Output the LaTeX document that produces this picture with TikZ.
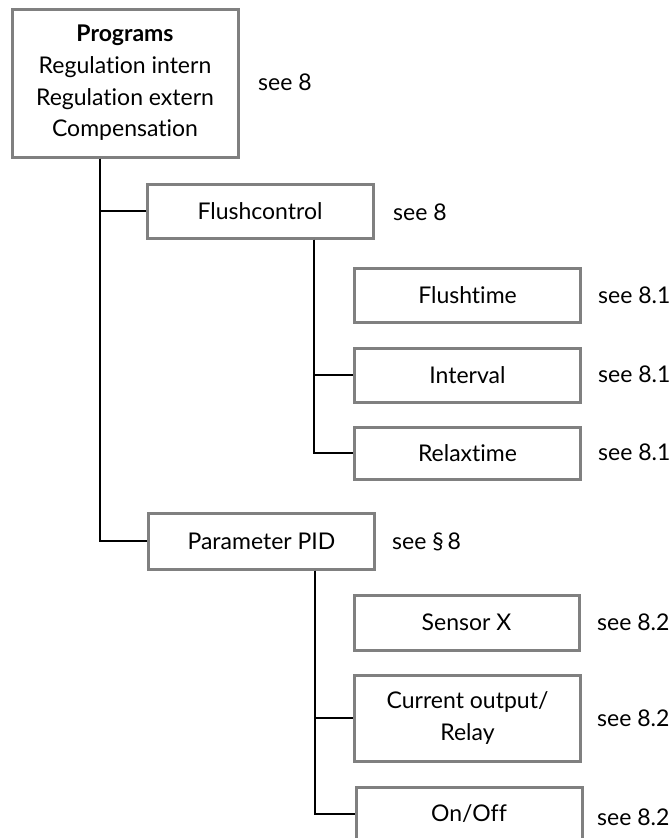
\documentclass[tikz,border=0pt]{standalone}
\usepackage{fontspec}
\setmainfont{Lato}[Ligatures={NoCommon},RawFeature={-liga;-dlig}]
\begin{document}
\begin{tikzpicture}[x=1pt,y=-1pt,
  box/.style={draw=boxgray,line width=3pt,fill=white,inner sep=0pt,minimum width=226pt,minimum height=54pt,align=center,font=\fontsize{23}{31.7}\selectfont},
  conn/.style={draw=black,line width=2pt},
  ref/.style={anchor=west,inner sep=0pt,font=\fontsize{23}{31.7}\selectfont}]
\definecolor{boxgray}{RGB}{128,128,128}
\useasboundingbox (0,0) rectangle (670,838);
\clip (0,0) rectangle (670,838);
% nodes
\node[box,minimum height=148pt] (top) at (125,83) {\textbf{Programs}\\Regulation intern\\Regulation extern\\Compensation};
\node[ref] (r0) at (258,82) {see 8};
\node[box] (flush) at (260,211) {Flushcontrol};
\node[ref] (r1) at (393,212) {see 8};
\node[box] (ftime) at (467.5,295) {Flushtime};
\node[ref] (r2) at (598,295) {see 8.1};
\node[box] (intv) at (467.5,375) {Interval};
\node[ref] (r3) at (598,374) {see 8.1};
\node[box,minimum height=52pt] (relax) at (467.5,453) {Relaxtime};
\node[ref] (r4) at (598,452) {see 8.1};
\node[box,minimum height=56pt] (pid) at (261.5,541) {Parameter PID};
\node[ref] (r5) at (392,542) {see \S\,8};
\node[box,minimum width=225pt,minimum height=55pt] (sens) at (466.5,622.5) {Sensor X};
\node[ref] (r6) at (597,622) {see 8.2};
\node[box,minimum height=86pt] (curr) at (467.5,718) {Current output/\\Relay};
\node[ref] (r7) at (597,718) {see 8.2};
\node[box] (onoff) at (469,814) {On/Off};
\node[ref] (r8) at (597,817) {see 8.2};
% connectors
\coordinate (t0) at ([xshift=-25pt]top.south);
\coordinate (t1) at ([xshift=54pt]flush.south);
\coordinate (t2) at ([xshift=53.5pt]pid.south);
\draw[conn] (t0) |- (flush.west);
\draw[conn] (t0) |- (pid.west);
\draw[conn] (t1) |- (intv.west);
\draw[conn] (t1) |- (relax.west);
\draw[conn] (t2) |- (curr.west);
\draw[conn] (t2) |- (onoff.west);
\end{tikzpicture}
\end{document}
